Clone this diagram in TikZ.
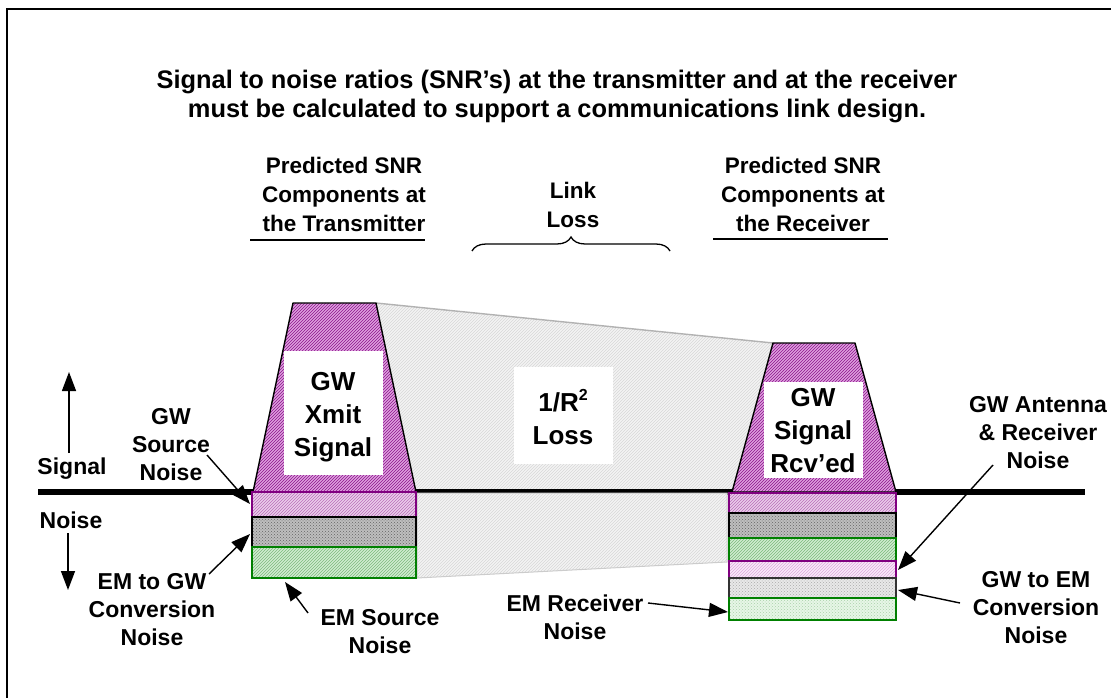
\documentclass[tikz,border=0pt]{standalone}
\usepackage{fontspec}
\setmainfont{Liberation Sans}
\usetikzlibrary{arrows.meta,patterns,decorations.pathreplacing}
\definecolor{trapbase}{RGB}{222,160,222}
\definecolor{traphatch}{RGB}{140,20,140}
\definecolor{pinkbase}{RGB}{235,205,235}
\definecolor{pinkhatch}{RGB}{185,110,185}
\definecolor{graybase}{RGB}{190,190,190}
\definecolor{grayhatch}{RGB}{100,100,100}
\definecolor{greenbase}{RGB}{208,237,208}
\definecolor{greenhatch}{RGB}{125,185,125}
\definecolor{lpinkbase}{RGB}{250,234,250}
\definecolor{lpinkhatch}{RGB}{220,170,220}
\definecolor{lgraybase}{RGB}{232,232,232}
\definecolor{lgrayhatch}{RGB}{170,170,170}
\definecolor{lgreenbase}{RGB}{230,246,230}
\definecolor{lgreenhatch}{RGB}{170,210,170}
\definecolor{linkbase}{RGB}{244,244,244}
\definecolor{linkhatch}{RGB}{215,215,215}
\definecolor{rowpurple}{RGB}{128,0,128}
\definecolor{rowgreen}{RGB}{0,128,0}
\begin{document}
\begin{tikzpicture}[x=1pt,y=-1pt,
  titlefont/.style={font=\bfseries\fontsize{25.4}{29}\selectfont, align=center, inner sep=0pt},
  headfont/.style={font=\bfseries\fontsize{22.5}{29}\selectfont, align=center, inner sep=0pt},
  boxfont/.style={font=\bfseries\fontsize{26}{33}\selectfont, align=center, inner sep=0pt},
  sidefont/.style={font=\bfseries\fontsize{23}{28}\selectfont, align=center, inner sep=0pt},
  ptr/.style={-{Triangle[length=19pt,width=14pt]}, line width=1.4pt},
  trapstyle/.style={preaction={fill=trapbase}, pattern=north east lines, pattern color=traphatch, draw=black, line width=1.4pt, line join=round},
  pinkrow/.style={preaction={fill=pinkbase}, pattern=north east lines, pattern color=pinkhatch, draw=rowpurple, line width=1.4pt},
  grayrow/.style={preaction={fill=graybase}, pattern=crosshatch dots, pattern color=grayhatch, draw=black, line width=1.4pt},
  greenrow/.style={preaction={fill=greenbase}, pattern=north east lines, pattern color=greenhatch, draw=rowgreen, line width=1.4pt},
  lpinkrow/.style={preaction={fill=lpinkbase}, pattern=north east lines, pattern color=lpinkhatch, draw=rowpurple, line width=1.4pt},
  lgrayrow/.style={preaction={fill=lgraybase}, pattern=crosshatch dots, pattern color=lgrayhatch, draw=black!80, line width=1.4pt},
  lgreenrow/.style={preaction={fill=lgreenbase}, pattern=crosshatch dots, pattern color=lgreenhatch, draw=rowgreen, line width=1.4pt},
  linkfill/.style={preaction={fill=linkbase}, pattern=north east lines, pattern color=linkhatch},
  whitebox/.style={fill=white, draw=none}
]
\useasboundingbox (0,0) rectangle (1111,698);
\fill[white] (0,0) rectangle (1111,698);
% frame
\draw[line width=1.5pt] (7,698) -- (7,9) -- (1111,9);

% title
\node[titlefont] (title) at (557,96) {Signal to noise ratios (SNR’s) at the transmitter and at the receiver\\must be calculated to support a communications link design.};

% headers
\node[headfont] (hleft) at (344,194) {Predicted SNR\\Components at\\the Transmitter};
\node[headfont] (hright) at (803,194) {Predicted SNR\\Components at\\the Receiver};
\node[headfont] (hlink) at (573,205) {Link\\Loss};
\coordinate (ulA) at (250,240); \coordinate (ulB) at (425,240);
\coordinate (urA) at (713,239); \coordinate (urB) at (888,239);
\draw[line width=1.4pt] (ulA) -- (ulB);
\draw[line width=1.4pt] (urA) -- (urB);
\coordinate (brL) at (472,251); \coordinate (brR) at (670,251);
\draw[line width=1.3pt, decorate, decoration={brace, amplitude=14pt}] (brL) -- (brR);

% link loss region (upper part)
\path[linkfill] (376,303) -- (773,343) -- (732,492) -- (417,492) -- cycle;
\draw[line width=1.4pt, black!30] (376,303) -- (773,343);
% axis
\coordinate (axL) at (38,492); \coordinate (axR) at (1085,492);
\draw[line width=6pt] (axL) -- (axR);
% link loss region (lower part)
\path[linkfill, draw=black!20, line width=1pt] (417,493) -- (727,493) -- (727,562) -- (417,578) -- cycle;

% left trapezoid and stack
\path[trapstyle] (253,492) -- (293,303) -- (376,303) -- (416,492) -- cycle;
\path[pinkrow] (252,492) rectangle (416,517);
\path[grayrow] (252,517) rectangle (416,547);
\path[greenrow] (252,547) rectangle (416,578);
\fill[whitebox] (284,351) rectangle (383,475);
\node[boxfont] (xmit) at (333,417) {GW\\Xmit\\Signal};

% right trapezoid and stack
\path[trapstyle] (732,492) -- (773,343) -- (855,343) -- (896,492) -- cycle;
\path[pinkrow] (729,493) rectangle (896,513);
\path[grayrow] (729,513) rectangle (896,538);
\path[greenrow] (729,538) rectangle (896,561);
\path[lpinkrow] (729,561) rectangle (896,578);
\path[lgrayrow] (729,578) rectangle (896,598);
\path[lgreenrow] (729,598) rectangle (896,620);
\fill[whitebox] (764,382) rectangle (863,478);
\node[boxfont] (rcv) at (813,431) {GW\\Signal\\Rcv’ed};

% 1/R^2 box
\fill[whitebox] (514,367) rectangle (613,464);
\node[boxfont] (loss) at (563,417) {1/R\raisebox{0.45em}{\fontsize{16}{16}\selectfont 2}\\Loss};

% left axis labels
\node[sidefont] (sig) at (72,469) {Signal};
\node[sidefont] (noi) at (71,520) {Noise};
\coordinate (sigA) at (69,453); \coordinate (sigB) at (69,372);
\coordinate (noiA) at (68,533); \coordinate (noiB) at (68,590);
\draw[ptr] (sigA) -- (sigB);
\draw[ptr] (noiA) -- (noiB);

% side labels
\node[sidefont] (gwsrc) at (171,445) {GW\\Source\\Noise};
\node[sidefont] (emgw) at (152,610) {EM to GW\\Conversion\\Noise};
\node[sidefont] (emsrc) at (380,632) {EM Source\\Noise};
\node[sidefont] (emrcv) at (575,617) {EM Receiver\\Noise};
\node[sidefont] (gwant) at (1038,433) {GW Antenna\\\& Receiver\\Noise};
\node[sidefont] (gwem) at (1036,608) {GW to EM\\Conversion\\Noise};

\coordinate (t1) at (250,504);
\coordinate (s1) at (207,455);
\draw[ptr] (s1) -- (t1);
\coordinate (t2) at (250,534);
\coordinate (s2) at (209,574);
\draw[ptr] (s2) -- (t2);
\coordinate (t3) at (285,582);
\coordinate (s3) at (308,613);
\draw[ptr] (s3) -- (t3);
\coordinate (t4) at (728,612);
\coordinate (s4) at (648,603);
\draw[ptr] (s4) -- (t4);
\coordinate (t5) at (898,570);
\coordinate (s5) at (993,465);
\draw[ptr] (s5) -- (t5);
\coordinate (t6) at (898,590);
\coordinate (s6) at (960,603);
\draw[ptr] (s6) -- (t6);
\end{tikzpicture}
\end{document}
